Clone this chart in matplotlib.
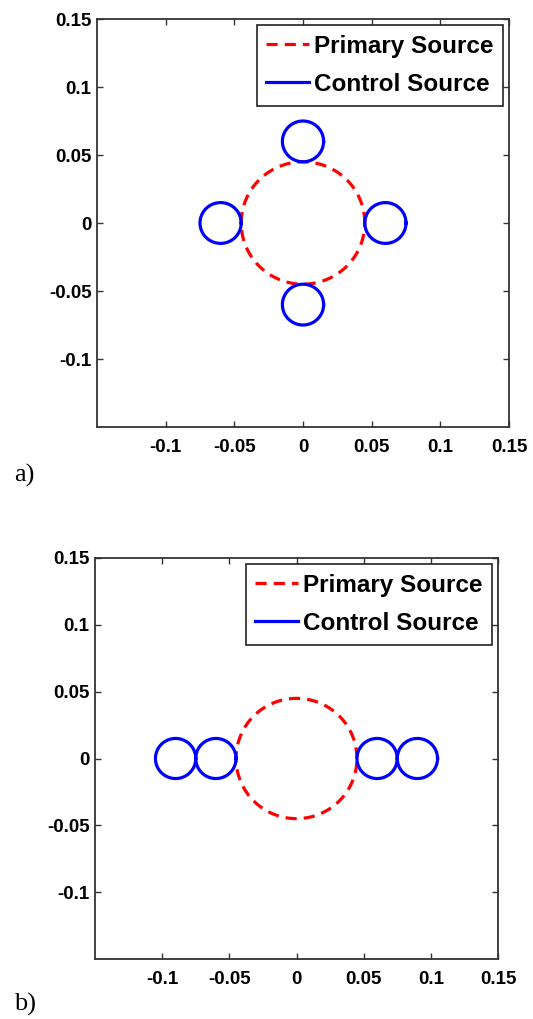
import numpy as np
import matplotlib
matplotlib.use("Agg")
import matplotlib.pyplot as plt

# Data
primary_center = (0.0, 0.0)
primary_radius = 0.045
control_radius = 0.015
control_centers_a = [(0.0, 0.06), (-0.06, 0.0), (0.06, 0.0), (0.0, -0.06)]
control_centers_b = [(-0.09, 0.0), (-0.06, 0.0), (0.06, 0.0), (0.09, 0.0)]
xticks = [-0.1, -0.05, 0, 0.05, 0.1, 0.15]
yticks = [-0.1, -0.05, 0, 0.05, 0.1, 0.15]
tick_labels = ['-0.1', '-0.05', '0', '0.05', '0.1', '0.15']
panel_labels = ['a)', 'b)']

theta = np.linspace(0, 2 * np.pi, 200)

fig = plt.figure(figsize=(5.33, 10.19), dpi=100)
W, H = 533, 1019
boxes = [(97, 19, 509, 427), (95, 558, 498, 959)]
label_pos = [(14, 475), (14, 1004)]

tick_font = dict(family='Liberation Sans', weight='bold', size=13.5)

for i, (centers, box) in enumerate(zip([control_centers_a, control_centers_b], boxes)):
    l, t, r, b = box
    ax = fig.add_axes([l / W, 1 - b / H, (r - l) / W, (b - t) / H])
    ax.plot(primary_center[0] + primary_radius * np.cos(theta),
            primary_center[1] + primary_radius * np.sin(theta),
            color='#ff0000', ls=(0, (3.5, 2.2)), lw=2.3, label='Primary Source')
    for j, (cx, cy) in enumerate(centers):
        ax.plot(cx + control_radius * np.cos(theta), cy + control_radius * np.sin(theta),
                color='#0000ff', lw=2.3, label='Control Source' if j == 0 else None)
    ax.set_xlim(-0.15, 0.15)
    ax.set_ylim(-0.15, 0.15)
    ax.set_xticks(xticks)
    ax.set_yticks(yticks)
    ax.set_xticklabels(tick_labels, **tick_font)
    ax.set_yticklabels(tick_labels, **tick_font)
    ax.tick_params(direction='in', length=4, width=1.0, top=True, right=True, color='#333333')
    ax.tick_params(axis='x', pad=9)
    ax.tick_params(axis='y', pad=4)
    for s in ax.spines.values():
        s.set_linewidth(1.3)
        s.set_color('#333333')
    leg = ax.legend(loc='upper right', prop=dict(family='Liberation Sans', weight='bold', size=17.5),
                    frameon=True, fancybox=False, edgecolor='#222222', framealpha=1,
                    handlelength=1.75, handletextpad=0.2, borderpad=0.4, labelspacing=0.62,
                    borderaxespad=0.25)
    leg.get_frame().set_linewidth(1.2)
    fig.text(label_pos[i][0] / W, 1 - label_pos[i][1] / H, panel_labels[i],
             family='Liberation Serif', size=19, va='center', ha='left')

fig.savefig('out.png', dpi=100)
